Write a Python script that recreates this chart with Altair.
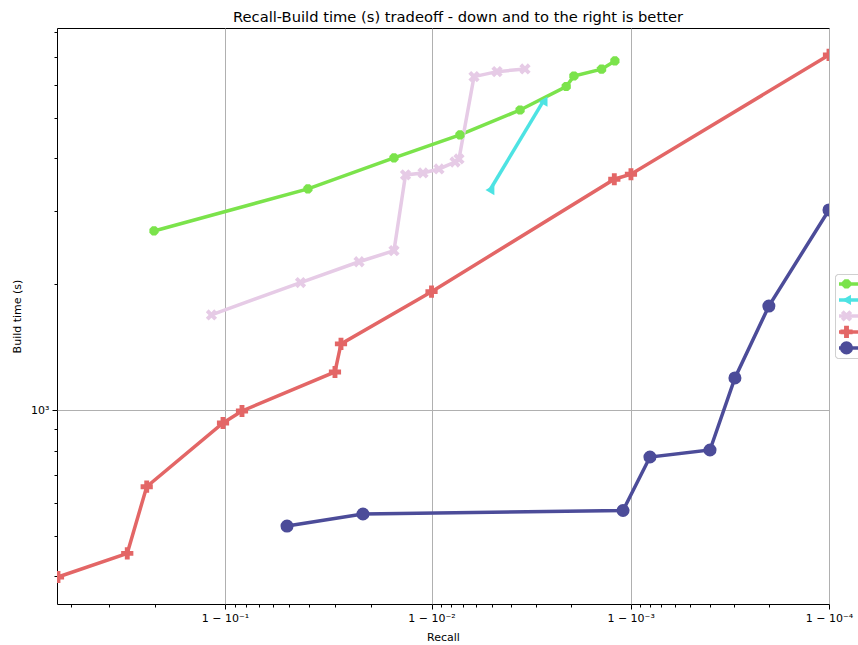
import altair as alt
import numpy as np
import pandas as pd

# ---- series data: recall vs. build time (seconds) ----
series_names = ["series 1", "series 2", "series 3", "series 4", "series 5"]
series_colors = ["#7be34b", "#4de3e3", "#e6cbe6", "#e36666", "#4c4c99"]

s1_recall = [0.7978, 0.9593, 0.98462, 0.99279, 0.99640, 0.99789, 0.99807, 0.99860, 0.99880]
s1_build = [2681, 3379, 4008, 4549, 5220, 5941, 6295, 6534, 6840]

s2_recall = [0.99490, 0.99724]
s2_build = [3360, 5466]

s3_recall = [0.8849, 0.9558, 0.97710, 0.98462, 0.98652, 0.98897, 0.99082, 0.99237,
             0.99271, 0.99387, 0.99530, 0.99660]
s3_build = [1688, 2018, 2263, 2405, 3650, 3690, 3772, 3920, 3986, 6272, 6448, 6544]

s4_recall = [0.5641, 0.7431, 0.7838, 0.8979, 0.9164, 0.96994, 0.97191, 0.99000,
             0.998792, 0.999004, 0.9999]
s4_build = [398.6, 454.1, 655.4, 930.9, 994.5, 1233, 1439, 1919, 3565, 3664, 7068]

s5_recall = [0.9487, 0.97810, 0.998908, 0.999201, 0.999602, 0.999702, 0.999799, 0.9999]
s5_build = [527.8, 563.9, 574.9, 771.9, 802.3, 1193, 1773, 3010]

# ---- tick definitions ----
x_major_recall = [0.9, 0.99, 0.999, 0.9999]
x_major_labels = ["1 \u2212 10\u207b\u00b9", "1 \u2212 10\u207b\u00b2",
                  "1 \u2212 10\u207b\u00b3", "1 \u2212 10\u207b\u2074"]
x_minor_recall = [0.6, 0.7, 0.8,
                  0.91, 0.92, 0.93, 0.94, 0.95, 0.96, 0.97, 0.98,
                  0.991, 0.992, 0.993, 0.994, 0.995, 0.996, 0.997, 0.998,
                  0.9991, 0.9992, 0.9993, 0.9994, 0.9995, 0.9996, 0.9997, 0.9998]
y_major = [1000]
y_major_labels = ["10\u00b3"]
y_minor = [400, 500, 600, 700, 800, 900, 2000, 3000, 4000, 5000, 6000, 7000, 8000]

marker_shapes = [
    "M1,0.414L0.414,1L-0.414,1L-1,0.414L-1,-0.414L-0.414,-1L0.414,-1L1,-0.414Z",  # octagon
    "triangle-left",
    "M0.5,-1L1,-0.5L0.5,0L1,0.5L0.5,1L0,0.5L-0.5,1L-1,0.5L-0.5,0L-1,-0.5L-0.5,-1L0,-0.5Z",  # filled x
    "cross",
    "circle",
]
marker_sizes = [85, 170, 100, 75, 140]

rows = []
for name, rec, bld in zip(series_names,
                          [s1_recall, s2_recall, s3_recall, s4_recall, s5_recall],
                          [s1_build, s2_build, s3_build, s4_build, s5_build]):
    for i, (r, b) in enumerate(zip(rec, bld)):
        rows.append({"series": name, "recall": r, "build": b, "idx": i})
df = pd.DataFrame(rows)


def logit10(p):
    return float(np.log10(p / (1.0 - p)))


x_major = [logit10(p) for p in x_major_recall]
x_minor = [logit10(p) for p in x_minor_recall]


def match(vals):
    return " || ".join(f"abs(datum.value - {v!r}) < 1e-6" for v in vals)


def label_expr(vals, labels):
    expr = "''"
    for v, lab in reversed(list(zip(vals, labels))):
        expr = f"abs(datum.value - {v!r}) < 1e-6 ? '{lab}' : " + expr
    return expr


def major_cond(vals, major_value, minor_value):
    return {"condition": {"test": match(vals), "value": major_value}, "value": minor_value}


x_enc = alt.X(
    "lx:Q",
    scale=alt.Scale(domain=[0.107, 4.0], nice=False, zero=False),
    axis=alt.Axis(
        values=sorted(x_major + x_minor),
        labelExpr=label_expr(x_major, x_major_labels),
        title="Recall",
        titleY=33,
        titleBaseline="middle",
        tickSize=major_cond(x_major, 5, 3),
        gridOpacity=major_cond(x_major, 1, 0),
        labelFlush=False,
        labelOverlap=False,
    ),
)
y_enc = alt.Y(
    "build:Q",
    scale=alt.Scale(type="log", domain=[343.5, 8200], nice=False),
    axis=alt.Axis(
        values=sorted(y_major + y_minor),
        labelExpr=label_expr(y_major, y_major_labels),
        title="Build time (s)",
        titleX=-40,
        titleBaseline="middle",
        tickSize=major_cond(y_major, 5, 3),
        gridOpacity=major_cond(y_major, 1, 0),
        labelOverlap=False,
    ),
)

legend_common = dict(
    orient="none", legendX=778, legendY=246, title=None,
    padding=2, rowPadding=0, clipHeight=15.75, labelFontSize=11,
    labelOffset=16, strokeColor="#d0d0d0", cornerRadius=3,
)

base = alt.Chart(df).transform_calculate(
    lx="log(datum.recall / (1 - datum.recall)) / LN10"
)

# line part of the legend (stroke channel, data-driven domain keeps it a separate
# legend drawn under the marker legend; its labels are left to the marker legend)
lines = base.mark_line(strokeWidth=3.5, clip=True).encode(
    x=x_enc,
    y=y_enc,
    stroke=alt.Stroke(
        "series:N",
        scale=alt.Scale(range=series_colors),
        legend=alt.Legend(symbolType="stroke", symbolSize=400, symbolStrokeWidth=3.5,
                          labelExpr="''", **legend_common),
    ),
    order="idx:Q",
)

point_legend = alt.Legend(symbolSize=90, symbolOffset=2, **legend_common)
points = base.mark_point(filled=True, opacity=1, strokeWidth=0, clip=True).encode(
    x=x_enc,
    y=y_enc,
    color=alt.Color("series:N", scale=alt.Scale(domain=series_names, range=series_colors),
                    legend=point_legend),
    shape=alt.Shape("series:N", scale=alt.Scale(domain=series_names, range=marker_shapes),
                    legend=point_legend),
    size=alt.Size("series:N", scale=alt.Scale(domain=series_names, range=marker_sizes),
                  legend=None),
)

chart = (
    alt.layer(lines, points)
    .properties(
        width=772,
        height=576,
        title=alt.TitleParams(
            "Recall-Build time (s) tradeoff - down and to the right is better",
            anchor="middle", frame="group", offset=4, baseline="bottom", dy=17, dx=15,
            font="DejaVu Sans", fontSize=14.7, fontWeight="normal", color="black",
        ),
        autosize=alt.AutoSizeParams(type="none"),
        padding={"left": 57, "top": 28, "right": 29, "bottom": 41},
    )
    .configure_view(stroke="black", strokeWidth=1)
    .configure_axis(
        labelFont="DejaVu Sans", labelFontSize=11, labelColor="black",
        titleFont="DejaVu Sans", titleFontSize=11, titleColor="black",
        titleFontWeight="normal", tickColor="black", tickWidth=1,
        domain=False, gridColor="#b0b0b0", gridWidth=1, labelPadding=3,
    )
    .configure_legend(labelFont="DejaVu Sans", labelColor="black")
)

chart.save("out.html", embed_options={"renderer": "svg", "actions": False})
